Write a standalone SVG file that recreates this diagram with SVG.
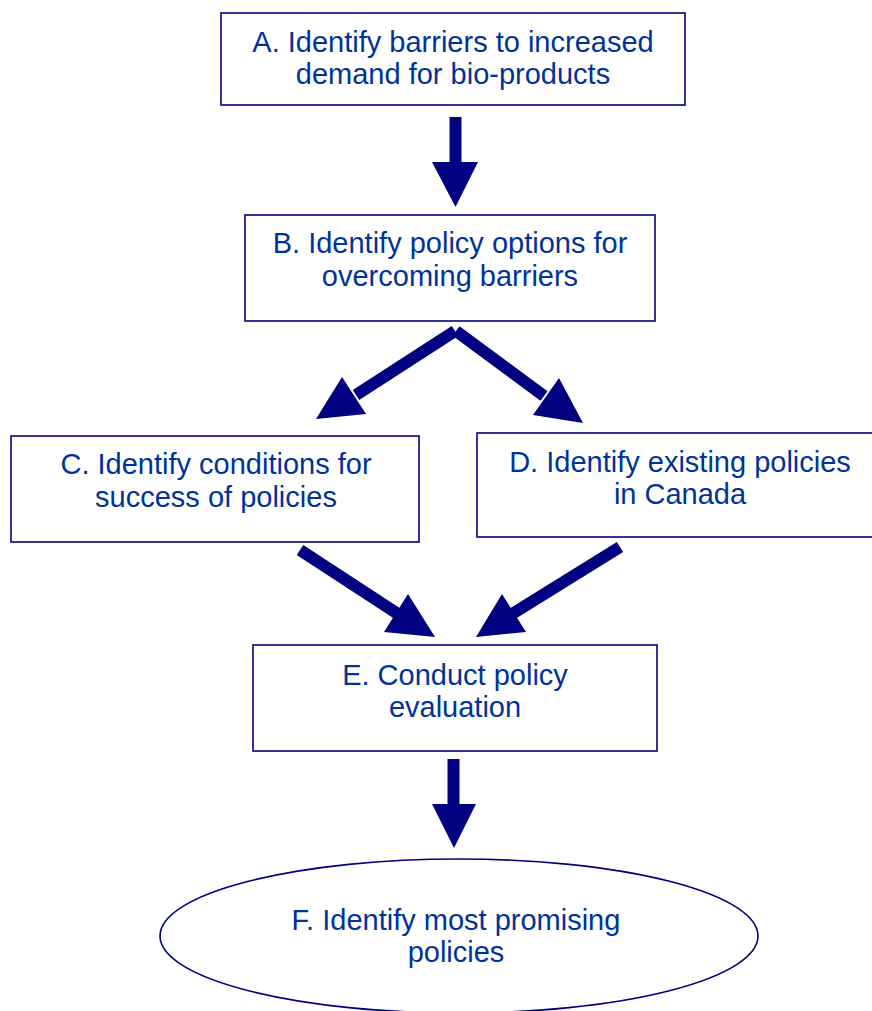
<svg xmlns="http://www.w3.org/2000/svg" width="872" height="1011" viewBox="0 0 872 1011">
<style>
.box{fill:#fff;stroke:#000080;stroke-width:1.6}
.t{font-family:"Liberation Sans",Arial,sans-serif;font-size:29px;fill:#003399;text-anchor:middle}
.shaft{stroke:#000080;stroke-width:12;fill:none}
.head{fill:#000080}
</style>
<rect width="872" height="1011" fill="#fff"/>
<g id="A"><rect class="box" x="221" y="13" width="464" height="92"/>
<text class="t" x="453" y="52">A. Identify barriers to increased</text>
<text class="t" x="453" y="84">demand for bio-products</text></g>
<g id="B"><rect class="box" x="245" y="215" width="410" height="106"/>
<text class="t" x="450" y="253">B. Identify policy options for</text>
<text class="t" x="450" y="286">overcoming barriers</text></g>
<g id="C"><rect class="box" x="11" y="436" width="408" height="106"/>
<text class="t" x="216" y="474">C. Identify conditions for</text>
<text class="t" x="216" y="507">success of policies</text></g>
<g id="D"><rect class="box" x="477" y="433" width="400" height="104"/>
<text class="t" x="680" y="472">D. Identify existing policies</text>
<text class="t" x="680" y="504">in Canada</text></g>
<g id="E"><rect class="box" x="253" y="645" width="404" height="106"/>
<text class="t" x="455" y="685">E. Conduct policy</text>
<text class="t" x="455" y="717">evaluation</text></g>
<g id="F"><ellipse class="box" cx="459" cy="936" rx="299" ry="77"/>
<text class="t" x="456" y="930">F. Identify most promising</text>
<text class="t" x="456" y="962">policies</text></g>
<g id="connectors">
<line class="shaft" x1="455.5" y1="117" x2="455.5" y2="164"/>
<polygon class="head" points="432,162 478,162 455.5,207"/>
<line class="shaft" x1="455" y1="331" x2="356" y2="395"/>
<polygon class="head" points="342,377 366,414 316,419"/>
<line class="shaft" x1="456" y1="331" x2="544" y2="396"/>
<polygon class="head" points="559,378 533,415 583,423"/>
<line class="shaft" x1="300" y1="550" x2="398" y2="614"/>
<polygon class="head" points="408,594 384,632 435,637"/>
<line class="shaft" x1="620" y1="547" x2="512" y2="614"/>
<polygon class="head" points="502,594 526,632 476,637"/>
<line class="shaft" x1="453.5" y1="759" x2="453.5" y2="806"/>
<polygon class="head" points="432,804 476,804 454,848"/>
</g>
</svg>
